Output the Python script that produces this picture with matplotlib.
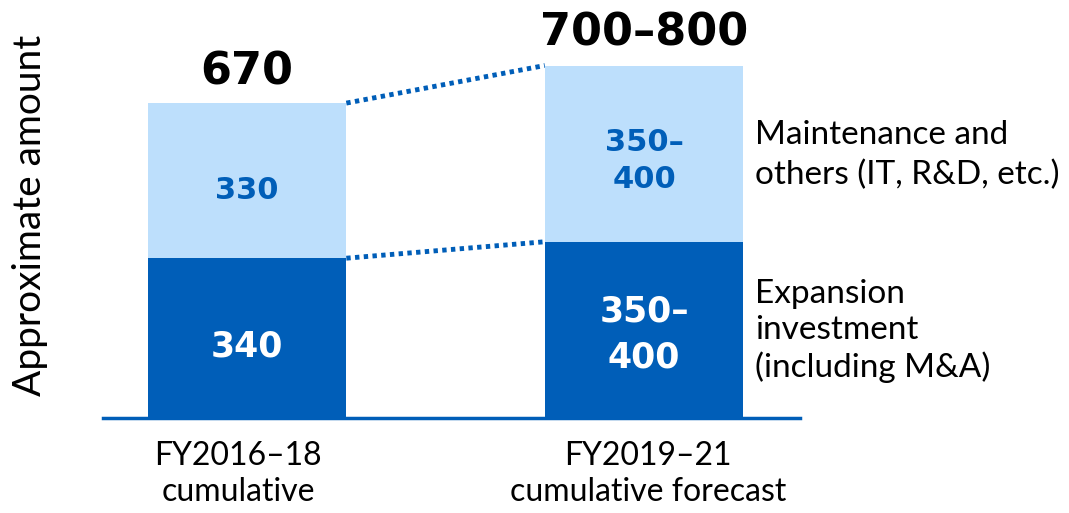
import numpy as np
import matplotlib.pyplot as plt

# data (approximate amounts, ranges drawn at their midpoint)
categories = ["FY2016\u201318\ncumulative", "FY2019\u201321\ncumulative forecast"]
expansion = [340, 375]
maintenance = [330, 375]
expansion_labels = ["340", "350\u2013\n400"]
maintenance_labels = ["330", "350\u2013\n400"]
total_labels = ["670", "700\u2013800"]
series_names = ["Maintenance and\nothers (IT, R&D, etc.)", "Expansion\ninvestment\n(including M&A)"]

dark = "#005EB8"
light = "#BDDFFC"
label_font = "Lato"
num_font = "DejaVu Sans"

fig = plt.figure(figsize=(10.69, 5.13), dpi=100)
ax = fig.add_axes([103 / 1069, 95 / 513, 697 / 1069, 376 / 513])

x = np.arange(len(categories))
w = 0.5
ax.bar(x, expansion, width=w, color=dark, zorder=2)
ax.bar(x, maintenance, width=w, bottom=expansion, color=light, zorder=2)

totals = np.array(expansion) + np.array(maintenance)

# dotted connectors between bars
ax.plot([x[0] + w / 2, x[1] - w / 2], [totals[0], totals[1]], color=dark,
        lw=3.5, ls=(0, (0.9, 0.9)), zorder=1)
ax.plot([x[0] + w / 2, x[1] - w / 2], [expansion[0], expansion[1]], color=dark,
        lw=3.5, ls=(0, (0.9, 0.9)), zorder=1)

# segment labels
ax.text(x[0], expansion[0] / 2 - 17, expansion_labels[0], ha="center", va="center",
        color="white", fontsize=25, fontweight="bold", family=num_font)
ax.text(x[0], expansion[0] + maintenance[0] / 2 - 22, maintenance_labels[0], ha="center",
        va="center", color=dark, fontsize=22, fontweight="bold", family=num_font)
ax.text(x[1], expansion[1] / 2 - 10, expansion_labels[1], ha="center", va="center",
        color="white", fontsize=25, fontweight="bold", family=num_font, linespacing=1.47)
ax.text(x[1], expansion[1] + maintenance[1] / 2 - 15, maintenance_labels[1], ha="center",
        va="center", color=dark, fontsize=22, fontweight="bold", family=num_font,
        linespacing=1.35)

# totals
ax.text(x[0], totals[0] + 67, total_labels[0], ha="center", va="center",
        fontsize=32, fontweight="bold", family=num_font)
ax.text(x[1], totals[1] + 70, total_labels[1], ha="center", va="center",
        fontsize=32, fontweight="bold", family=num_font, clip_on=False)

# right side series labels
ax.text(1.28, 560, series_names[0], ha="left", va="center",
        fontsize=24, family=label_font, linespacing=1.39, clip_on=False)
ax.text(1.28, 185, series_names[1], ha="left", va="center",
        fontsize=24, family=label_font, linespacing=1.24, clip_on=False)

ax.set_xlim(-0.363, 1.393)
ax.set_ylim(0, 800)
ax.set_xticks([])
ax.set_yticks([])
# category labels under the baseline
offsets = [-0.023, 0.01]
for i in range(len(x)):
    ax.text(x[i] + offsets[i], -119, categories[i], ha="center", va="center",
            fontsize=23, family=label_font, linespacing=1.23, clip_on=False)
for s in ["top", "right", "left"]:
    ax.spines[s].set_visible(False)
ax.spines["bottom"].set_color(dark)
ax.spines["bottom"].set_linewidth(2.5)

fig.text(30 / 1069, 1 - 215 / 513, "Approximate amount", rotation=90, ha="center",
         va="center", fontsize=28, family=label_font)

fig.savefig("out.png", dpi=100)
